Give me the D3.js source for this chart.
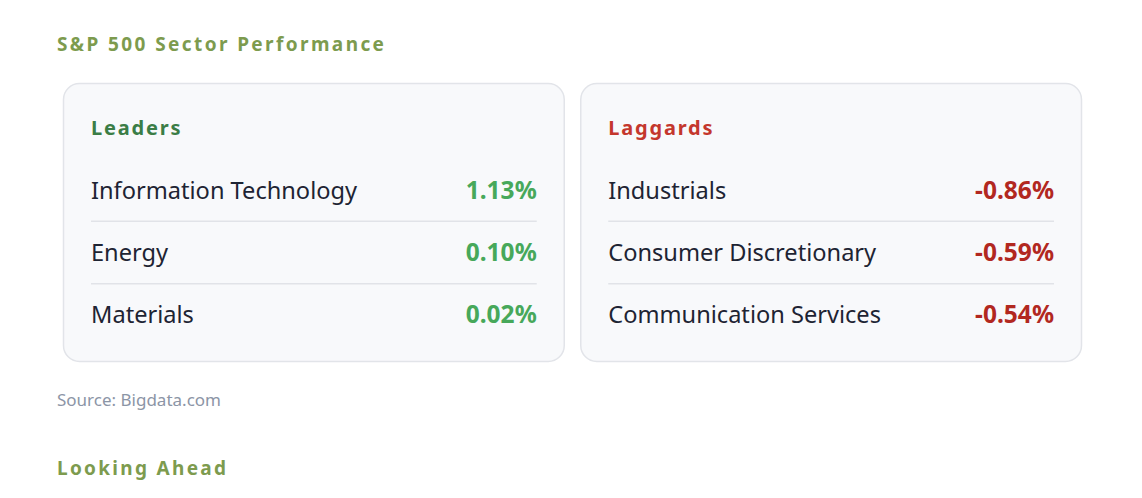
<!DOCTYPE html>
<html>
<head>
<meta charset="utf-8">
<script src="https://cdn.jsdelivr.net/npm/d3@7"></script>
<style>
  html, body { margin: 0; padding: 0; background: #fff; }
  svg { display: block; font-family: "Noto Sans", "Open Sans", sans-serif; }
</style>
</head>
<body>
<script>
const leaderNames = ["Information Technology", "Energy", "Materials"];
const leaderValues = [1.13, 0.10, 0.02];
const laggardNames = ["Industrials", "Consumer Discretionary", "Communication Services"];
const laggardValues = [-0.86, -0.59, -0.54];
const panelTitles = ["Leaders", "Laggards"];

const width = 1142;
const height = 498;

const svg = d3.select("body").append("svg")
  .attr("width", width)
  .attr("height", height);

svg.append("text")
  .attr("x", 57).attr("y", 51)
  .attr("fill", "#7d9b4e")
  .attr("font-size", 19).attr("font-weight", 700)
  .attr("letter-spacing", 2.4)
  .text("S&P 500 Sector Performance");

const panels = [
  { title: panelTitles[0], names: leaderNames, values: leaderValues, head: "#3b7d46", val: "#47a85a" },
  { title: panelTitles[1], names: laggardNames, values: laggardValues, head: "#c4372d", val: "#b2281f" }
];

// two cards side by side
const panelX = d3.scaleBand().domain(d3.range(panels.length)).range([63, 1082]).paddingInner(0.03);
const cardTop = 83, cardBottom = 361, pad = 28;

const rowY = d3.scaleBand().domain(d3.range(3)).range([159, 346]);
// plain hyphen for negatives, like the source
const fmt = v => d3.format(".2f")(v).replace("\u2212", "-") + "%";

panels.forEach((p, i) => {
  const x0 = panelX(i), w = panelX.bandwidth();
  const g = svg.append("g").attr("transform", `translate(${x0},0)`);

  g.append("rect")
    .attr("x", 0.5).attr("y", cardTop + 0.5)
    .attr("width", w - 1).attr("height", cardBottom - cardTop)
    .attr("rx", 16)
    .attr("fill", "#f8f9fb").attr("stroke", "#e2e4e9").attr("stroke-width", 1.5);

  g.append("text")
    .attr("x", pad).attr("y", 135)
    .attr("fill", p.head)
    .attr("font-size", 20).attr("font-weight", 700)
    .attr("letter-spacing", 1.8)
    .text(p.title);

  const rows = g.selectAll("g.row").data(p.names).enter().append("g")
    .attr("transform", (d, j) => `translate(0,${rowY(j)})`);

  rows.append("text")
    .attr("x", pad).attr("y", rowY.bandwidth() / 2 + 8.5)
    .attr("fill", "#1e2433")
    .attr("font-size", 23.6)
    .text(d => d);

  rows.append("text")
    .attr("x", w - pad).attr("y", rowY.bandwidth() / 2 + 8.5)
    .attr("text-anchor", "end")
    .attr("fill", p.val)
    .attr("font-size", 24.5).attr("font-weight", 700)
    .text((d, j) => fmt(p.values[j]));

  rows.filter((d, j) => j < p.names.length - 1).append("line")
    .attr("x1", pad).attr("x2", w - pad)
    .attr("y1", rowY.bandwidth()).attr("y2", rowY.bandwidth())
    .attr("stroke", "#e1e3e8").attr("stroke-width", 1.5);
});

svg.append("text")
  .attr("x", 57).attr("y", 406)
  .attr("fill", "#8c95a6")
  .attr("font-size", 17)
  .text("Source: Bigdata.com");

svg.append("text")
  .attr("x", 57).attr("y", 475)
  .attr("fill", "#7d9b4e")
  .attr("font-size", 19).attr("font-weight", 700)
  .attr("letter-spacing", 2.3)
  .text("Looking Ahead");
</script>
</body>
</html>
